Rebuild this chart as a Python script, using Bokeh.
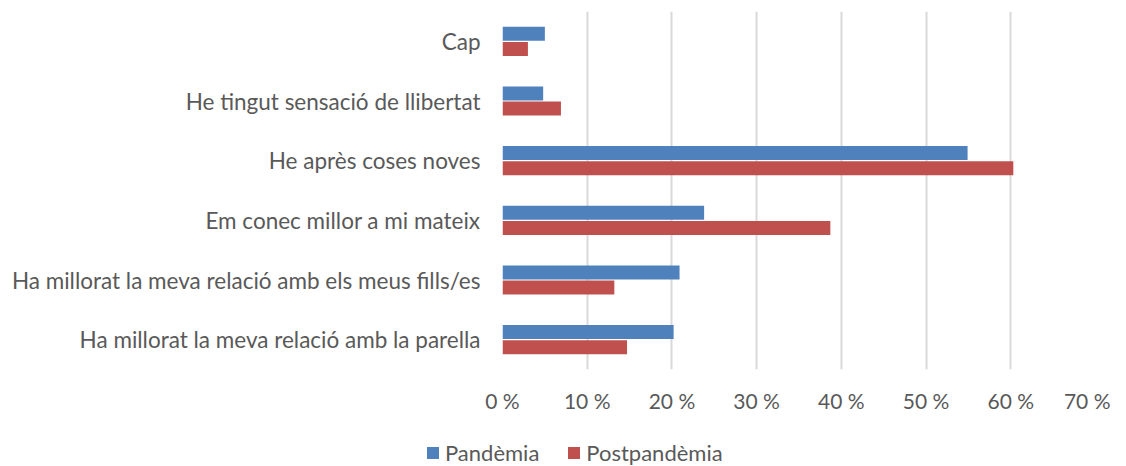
from bokeh.plotting import figure
from bokeh.models import FactorRange, Range1d, FixedTicker, Legend, LegendItem, ColumnDataSource
from bokeh.layouts import column, row
from bokeh.transform import dodge
from bokeh.embed import file_html
from bokeh.resources import INLINE

categories = [
    "Cap",
    "He tingut sensació de llibertat",
    "He après coses noves",
    "Em conec millor a mi mateix",
    "Ha millorat la meva relació amb els meus fills/es",
    "Ha millorat la meva relació amb la parella",
]
pandemia = [5.0, 4.8, 54.9, 23.8, 20.9, 20.2]
postpandemia = [3.0, 6.9, 60.3, 38.7, 13.2, 14.7]
series_names = ["Pandèmia", "Postpandèmia"]
series_colors = ["#4f81bd", "#c0504d"]
ticks = [0, 10, 20, 30, 40, 50, 60, 70]
tick_labels = ["0 %", "10 %", "20 %", "30 %", "40 %", "50 %", "60 %", "70 %"]

FONT = "Lato"
TXT = "#595959"

src = ColumnDataSource(dict(cat=categories, pan=pandemia, post=postpandemia))

p = figure(
    width=1110, height=425,
    y_range=FactorRange(*list(reversed(categories))),
    x_range=Range1d(0, 70),
    output_backend="svg", toolbar_location=None,
    min_border_left=502, min_border_right=15, min_border_top=11, min_border_bottom=56,
)
p.outline_line_color = None

p.hbar(y=dodge("cat", 0.127, range=p.y_range), right="pan", left=0, height=0.235,
       source=src, fill_color=series_colors[0], line_color=None)
p.hbar(y=dodge("cat", -0.127, range=p.y_range), right="post", left=0, height=0.235,
       source=src, fill_color=series_colors[1], line_color=None)

p.xaxis.ticker = FixedTicker(ticks=ticks)
p.xaxis.major_label_overrides = {t: l for t, l in zip(ticks, tick_labels)}
p.xaxis.axis_line_color = None
p.xaxis.major_tick_line_color = None
p.xaxis.minor_tick_line_color = None
p.xaxis.major_label_standoff = 12
p.xaxis.major_label_text_font = FONT
p.xaxis.major_label_text_font_size = "21px"
p.xaxis.major_label_text_color = TXT

p.yaxis.axis_line_color = None
p.yaxis.major_tick_line_color = None
p.yaxis.minor_tick_line_color = None
p.yaxis.major_label_standoff = 16
p.yaxis.major_label_text_font = FONT
p.yaxis.major_label_text_font_size = "22.5px"
p.yaxis.major_label_text_color = TXT

p.ygrid.grid_line_color = None
p.xgrid.ticker = FixedTicker(ticks=ticks)
p.xgrid.grid_line_color = "#d9d9d9"
p.xgrid.grid_line_width = 2

# legend strip below the chart (zero-length proxy bars carry the swatches)
lg = figure(
    width=1110, height=41, x_range=Range1d(0, 1), y_range=Range1d(0, 1),
    output_backend="svg", toolbar_location=None,
    x_axis_type=None, y_axis_type=None, min_border=0,
)
lg.outline_line_color = None
lg.grid.visible = False
rs = [lg.hbar(y=[0.5], right=[0], left=0, height=0.1, fill_color=c, line_color=None)
      for c in series_colors]
legend = Legend(
    items=[LegendItem(label=n, renderers=[r]) for n, r in zip(series_names, rs)],
    location=(425, 0), orientation="horizontal",
    glyph_width=15, glyph_height=15, label_standoff=5, spacing=27,
    padding=0, margin=0, border_line_alpha=0, background_fill_alpha=0,
    label_text_font=FONT, label_text_font_size="22px", label_text_color=TXT,
    label_height=20,
)
lg.add_layout(legend, "center")

layout = column(p, row(lg), spacing=0)
open("out.html", "w").write(file_html(layout, INLINE))
